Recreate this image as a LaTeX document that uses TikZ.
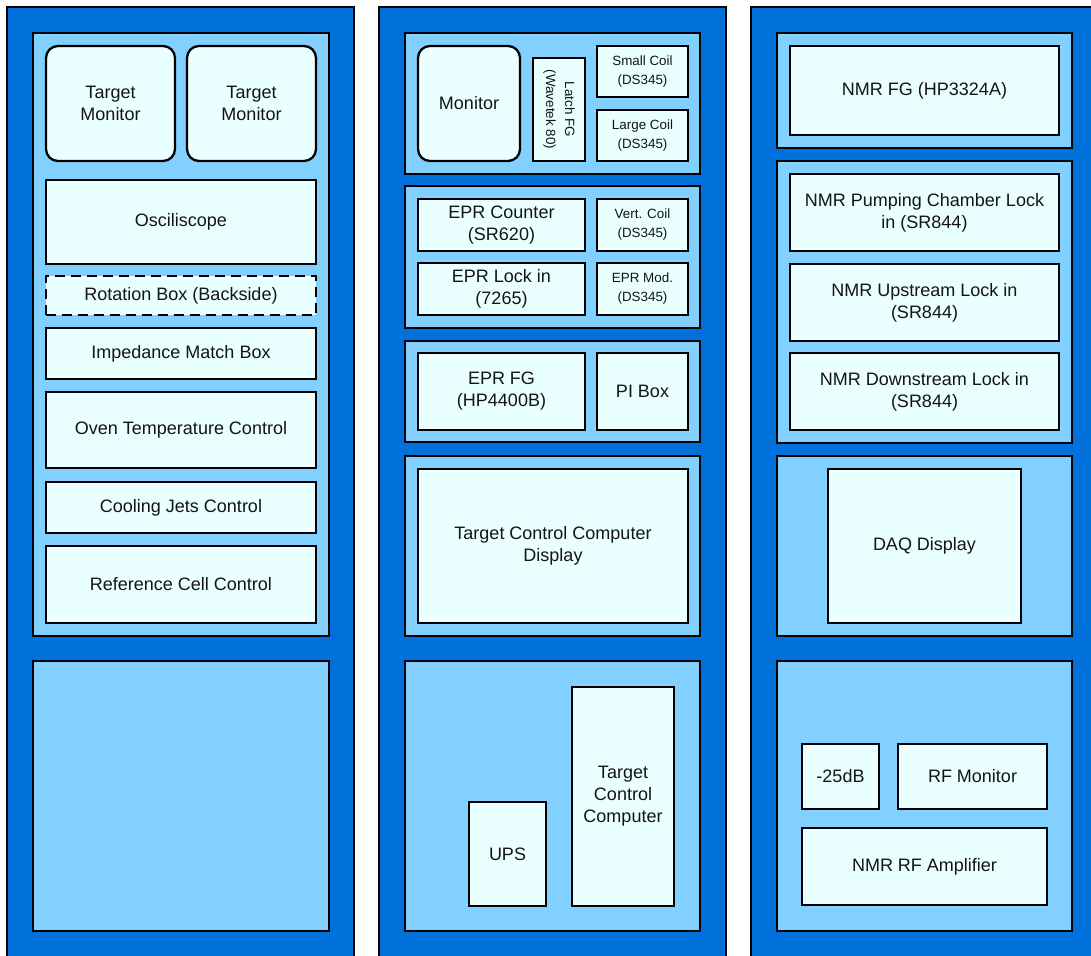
\documentclass[tikz,border=0pt]{standalone}
\usepackage{fontspec}
\setmainfont{Liberation Sans}
\definecolor{rackblue}{RGB}{0,112,218}
\definecolor{panelblue}{RGB}{130,208,255}
\definecolor{itemfill}{RGB}{234,255,255}
\definecolor{txt}{RGB}{20,20,20}
\tikzset{
  rack/.style={draw=black, line width=1.5pt, fill=rackblue},
  panel/.style={draw=black, line width=2.4pt, fill=panelblue},
  item/.style={draw=black, line width=2.3pt, fill=itemfill, text=txt, align=center,
    font=\fontsize{18}{22}\selectfont},
  smallitem/.style={item, font=\fontsize{13.4}{19}\selectfont},
  rounditem/.style={item, rounded corners=12pt},
  dashitem/.style={item, dash pattern=on 10pt off 6pt},
}
\newcommand\bx[7]{\node[#6, inner sep=0pt, minimum width={(#4-#2)*1pt}, minimum height={(#5-#3)*1pt}] (#1) at ({(#2+#4)/2},{(#3+#5)/2}) {#7};}
\begin{document}
\begin{tikzpicture}[x=1pt,y=-1pt]
\clip (0,0) rectangle (1091,955);
\fill[white] (0,0) rectangle (1091,955);
% racks
\bx{rackL}{7}{7}{354}{965}{rack}{}
\bx{rackM}{379}{7}{726}{965}{rack}{}
\bx{rackR}{751}{7}{1110}{965}{rack}{}
% left rack
\bx{lp1}{33}{33}{329}{636}{panel}{}
\bx{lp2}{33}{661}{329}{931}{panel}{}
\bx{tm1}{46}{46}{175}{161}{rounditem}{Target\\Monitor}
\bx{tm2}{187}{46}{316}{161}{rounditem}{Target\\Monitor}
\bx{osc}{46}{180}{316}{264}{item}{Osciliscope}
\bx{rot}{46}{276}{316}{315}{dashitem}{Rotation Box (Backside)}
\bx{imp}{46}{328}{316}{379}{item}{Impedance Match Box}
\bx{oven}{46}{392}{316}{468}{item}{Oven Temperature Control}
\bx{cool}{46}{482}{316}{533}{item}{Cooling Jets Control}
\bx{ref}{46}{546}{316}{623}{item}{Reference Cell Control}
% middle rack
\bx{mp1}{405}{33}{700}{174}{panel}{}
\bx{mp2}{405}{186}{700}{328}{panel}{}
\bx{mp3}{405}{341}{700}{442}{panel}{}
\bx{mp4}{405}{456}{700}{636}{panel}{}
\bx{mp5}{405}{661}{700}{931}{panel}{}
\bx{mon}{418}{46}{520}{161}{rounditem}{Monitor}
\node[smallitem, inner sep=0pt, minimum width=103pt, minimum height=52pt, rotate=-90] (latch) at (559,109.5) {Latch FG\\(Wavetek 80)};
\bx{scoil}{597}{46}{688}{97}{smallitem}{Small Coil\\(DS345)}
\bx{lcoil}{597}{110}{688}{161}{smallitem}{Large Coil\\(DS345)}
\bx{eprc}{418}{199}{585}{251}{item}{EPR Counter\\(SR620)}
\bx{vcoil}{597}{199}{688}{251}{smallitem}{Vert. Coil\\(DS345)}
\bx{eprl}{418}{263}{585}{315}{item}{EPR Lock in\\(7265)}
\bx{eprm}{597}{263}{688}{315}{smallitem}{EPR Mod.\\(DS345)}
\bx{eprfg}{418}{353}{585}{430}{item}{EPR FG\\(HP4400B)}
\bx{pibox}{597}{353}{688}{430}{item}{PI Box}
\bx{tccd}{418}{469}{688}{623}{item}{Target Control Computer\\Display}
\bx{ups}{469}{802}{546}{906}{item}{UPS}
\bx{tcc}{572}{687}{674}{906}{item}{Target\\Control\\Computer}
% right rack
\bx{rp1}{777}{33}{1072}{148}{panel}{}
\bx{rp2}{777}{161}{1072}{443}{panel}{}
\bx{rp3}{777}{456}{1072}{636}{panel}{}
\bx{rp4}{777}{661}{1072}{931}{panel}{}
\bx{nmrfg}{790}{46}{1059}{135}{item}{NMR FG (HP3324A)}
\bx{pump}{790}{174}{1059}{251}{item}{NMR Pumping Chamber Lock\\in (SR844)}
\bx{up}{790}{264}{1059}{341}{item}{NMR Upstream Lock in\\(SR844)}
\bx{down}{790}{353}{1059}{430}{item}{NMR Downstream Lock in\\(SR844)}
\bx{daq}{828}{469}{1021}{623}{item}{DAQ Display}
\bx{att}{802}{744}{879}{809}{item}{-25dB}
\bx{rfmon}{898}{744}{1047}{809}{item}{RF Monitor}
\bx{rfamp}{802}{828}{1047}{905}{item}{NMR RF Amplifier}
\end{tikzpicture}
\end{document}
